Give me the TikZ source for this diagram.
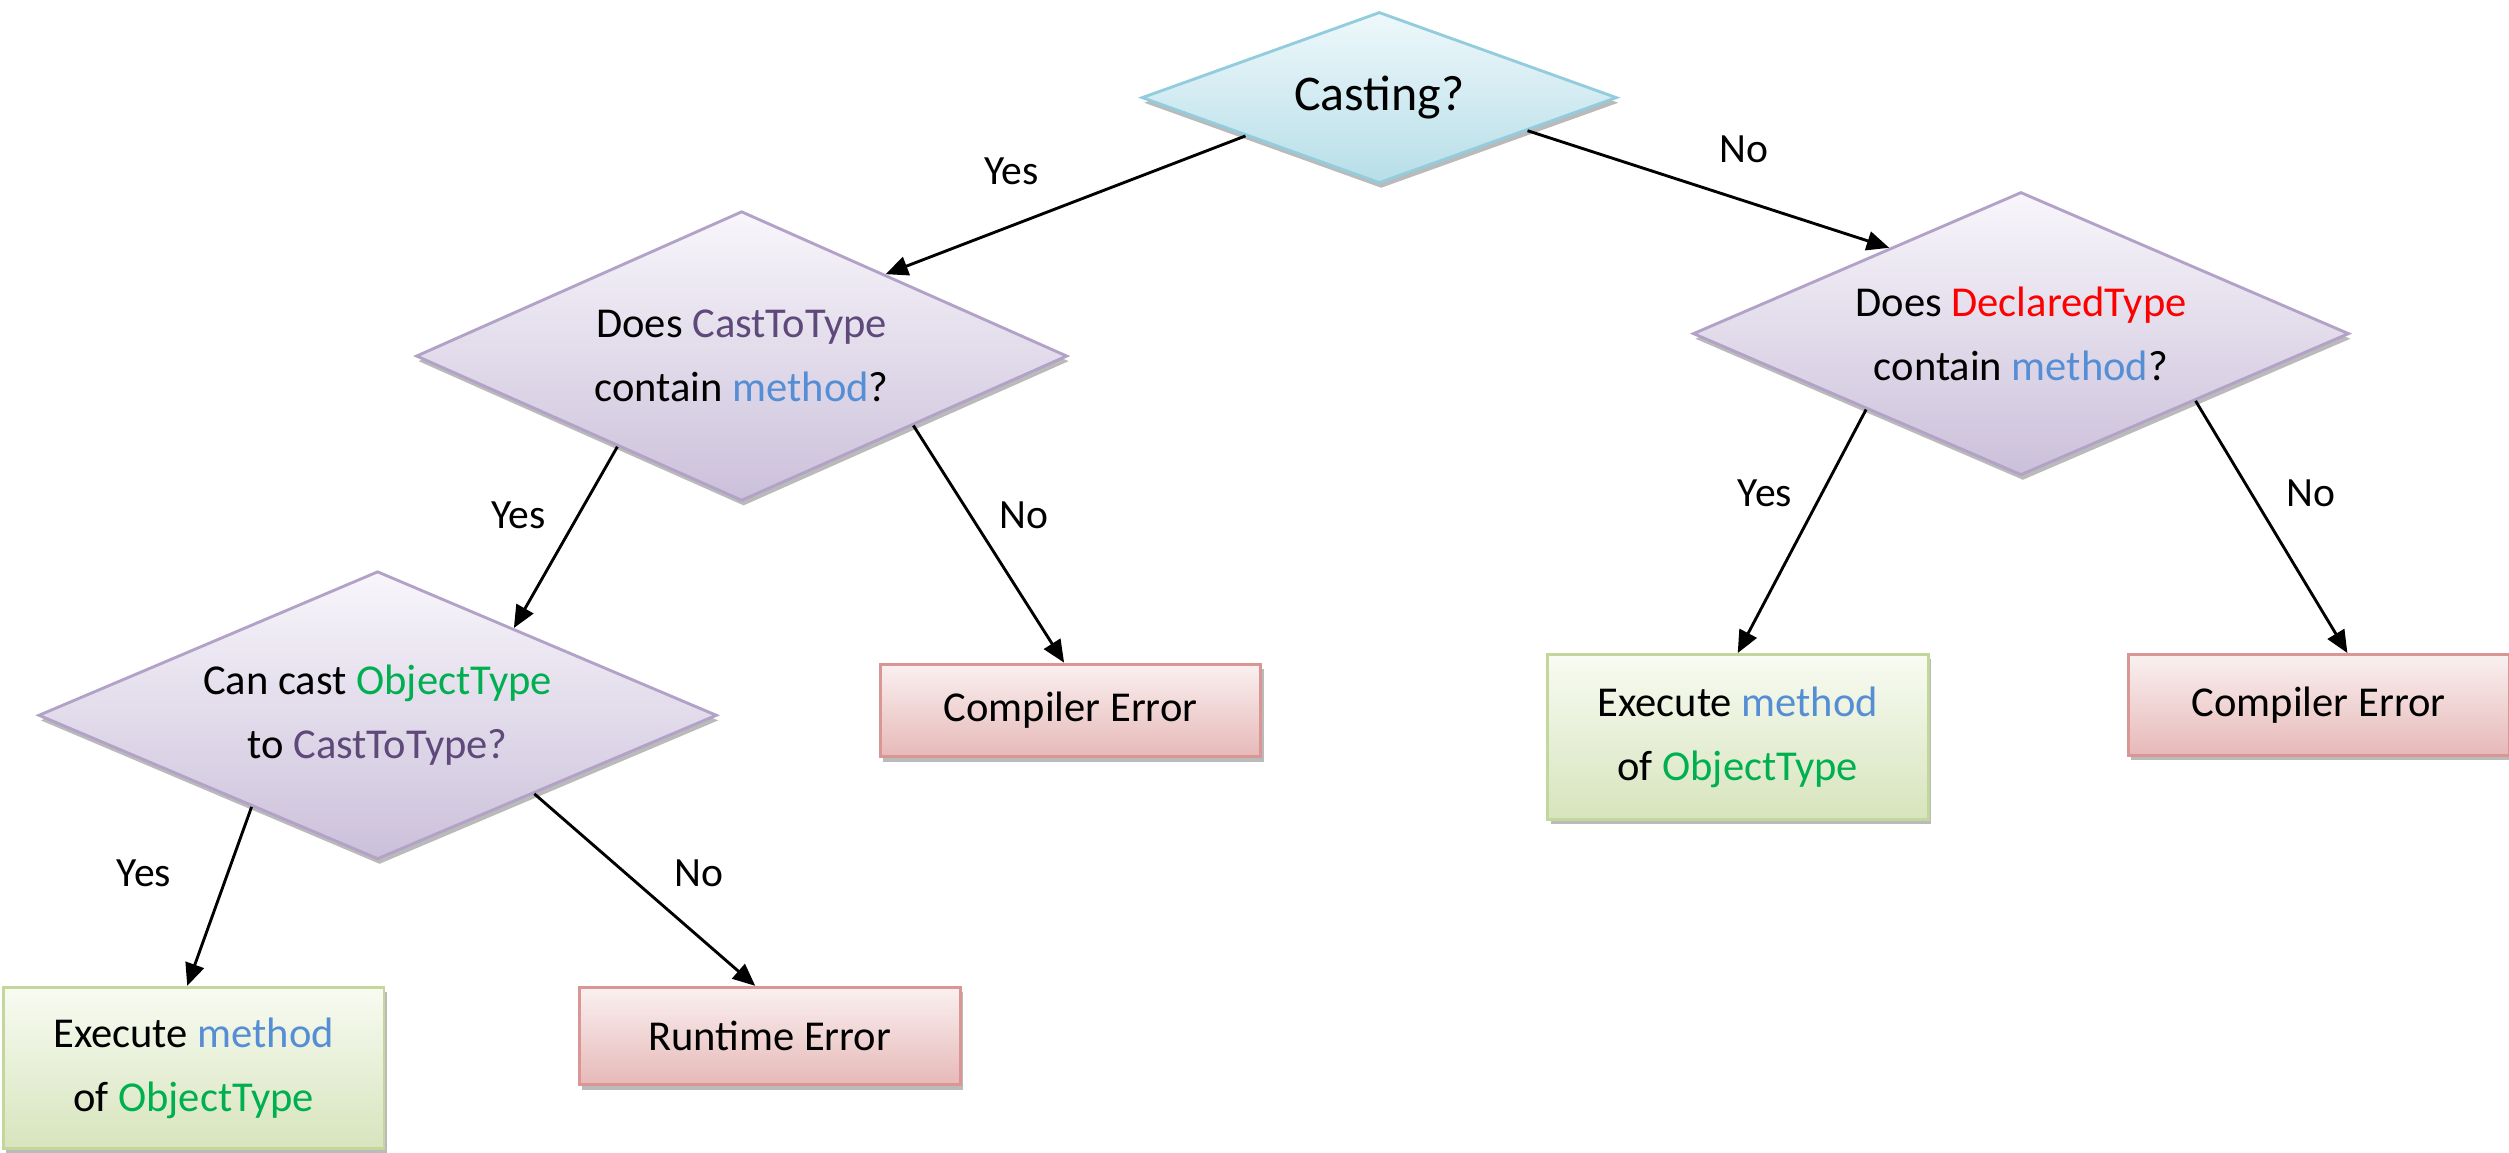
\documentclass[tikz,border=0pt]{standalone}
\usepackage{fontspec}
\setmainfont{Carlito}
\usetikzlibrary{shapes.geometric,shadows,arrows.meta,calc}

\definecolor{castC}{HTML}{5F497A}
\definecolor{methC}{HTML}{558ED5}
\definecolor{objC}{HTML}{00B050}
\definecolor{declC}{HTML}{FF0000}
\definecolor{blueB}{HTML}{93CDDD}
\definecolor{blueT}{HTML}{EEF8FB}
\definecolor{blueD}{HTML}{B7DEE8}
\definecolor{purpB}{HTML}{B3A2C7}
\definecolor{purpT}{HTML}{F8F6FB}
\definecolor{purpD}{HTML}{CBC0DA}
\definecolor{greenB}{HTML}{C3D69B}
\definecolor{greenT}{HTML}{F8FBF2}
\definecolor{greenD}{HTML}{D7E4BD}
\definecolor{redB}{HTML}{D99694}
\definecolor{redT}{HTML}{FAF0F0}
\definecolor{redD}{HTML}{E6B9B8}

\tikzset{
  base/.style={inner sep=0pt, align=center, font=\fontsize{13.3}{20}\selectfont, line width=0.9pt},
  dshadow/.style={drop shadow={shadow xshift=0.6pt, shadow yshift=-1.6pt, opacity=0.45, fill=black!60}},
  bshadow/.style={drop shadow={shadow xshift=1pt, shadow yshift=-1.5pt, opacity=0.45, fill=black!60}},
  startdiamond/.style={base, diamond, aspect=2.78, draw=blueB, top color=blueT, bottom color=blueD, dshadow,
    font=\fontsize{15.6}{20}\selectfont},
  question/.style={base, diamond, aspect=2.35, draw=purpB, top color=purpT, bottom color=purpD, dshadow},
  okbox/.style={base, rectangle, minimum width=119pt, draw=greenB, top color=greenT, bottom color=greenD, bshadow},
  errbox/.style={base, rectangle, minimum width=119pt, draw=redB, top color=redT, bottom color=redD, bshadow},
  flow/.style={line width=0.9pt, -{Triangle[length=7pt,width=6pt]}},
  lbl/.style={font=\fontsize{13}{16}\selectfont, inner sep=0pt}
}

\begin{document}
\begin{tikzpicture}[x=0.5pt, y=-0.5pt]
\useasboundingbox (0,0) rectangle (1568,720);

% decisions
\node[startdiamond, minimum width=148.5pt, minimum height=53.5pt] (d1) at (862,61) {Casting?};
\node[question, minimum width=203.5pt, minimum height=90.5pt] (d2) at (463.5,222.5)
  {Does \textcolor{castC}{CastToType}\\contain \textcolor{methC}{method}?};
\node[question, minimum width=212pt, minimum height=90pt] (d3) at (236,447)
  {Can cast \textcolor{objC}{ObjectType}\\to \textcolor{castC}{CastToType?}};
\node[question, minimum width=205pt, minimum height=88.5pt] (d4) at (1263,208.5)
  {Does \textcolor{declC}{DeclaredType}\\contain \textcolor{methC}{method}?};

% outcomes
\node[errbox, minimum height=29pt] (ce1) at (669,444) {Compiler Error};
\node[okbox, minimum height=50.5pt] (exL) at (121,667.5)
  {Execute \textcolor{methC}{method}\\of \textcolor{objC}{ObjectType}};
\node[errbox, minimum height=30.5pt] (rt) at (481,647.5) {Runtime Error};
\node[okbox, minimum height=51.5pt] (exR) at (1086,460.5)
  {Execute \textcolor{methC}{method}\\of \textcolor{objC}{ObjectType}};
\node[errbox, minimum height=31.5pt] (ceR) at (1449,440.5) {Compiler Error};

% connectors
\draw[flow] ($(d1.west)!0.44!(d1.south)$) -- ($(d2.north)!0.44!(d2.east)$);
\draw[flow] ($(d1.east)!0.38!(d1.south)$) -- ($(d4.west)!0.6!(d4.north)$);
\draw[flow] ($(d2.west)!0.62!(d2.south)$) -- ($(d3.north)!0.4!(d3.east)$);
\draw[flow] ($(d2.east)!0.475!(d2.south)$) -- ($(ce1.north)+(-4,0)$);
\draw[flow] ($(d3.west)!0.63!(d3.south)$) -- ($(exL.north)+(-4,0)$);
\draw[flow] ($(d3.east)!0.54!(d3.south)$) -- ($(rt.north)+(-9,0)$);
\draw[flow] ($(d4.west)!0.53!(d4.south)$) -- (exR.north);
\draw[flow] ($(d4.east)!0.47!(d4.south)$) -- ($(ceR.north)+(18,0)$);

% branch labels
\node[lbl] (l1) at (632,107) {Yes};
\node[lbl] (l2) at (1090,93) {No};
\node[lbl] (l3) at (324,322) {Yes};
\node[lbl] (l4) at (640,322) {No};
\node[lbl] (l5) at (90,546) {Yes};
\node[lbl] (l6) at (437,546) {No};
\node[lbl] (l7) at (1103,308) {Yes};
\node[lbl] (l8) at (1444,308) {No};
\end{tikzpicture}
\end{document}
